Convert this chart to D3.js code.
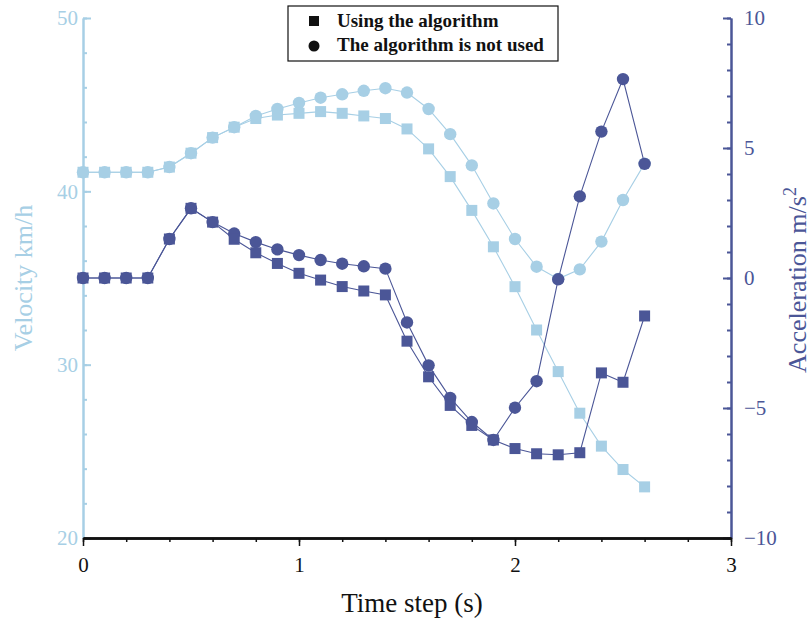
<!DOCTYPE html>
<html lang="en">
  <head>
    <meta charset="utf-8">
    <title>Velocity and acceleration</title>
  </head>
  <style>
    body { margin: 0; background: #fff; }
  </style>
  <body>
    <div id="svg-area"></div>
    <script src="https://cdn.jsdelivr.net/npm/d3@7"></script>
    <script>
      const svg_width = 811;
      const svg_height = 624;
      const serif = '"Liberation Serif", "Times New Roman", "DejaVu Serif", serif';

      // time steps 0 .. 2.6
      const time = [0,0.1,0.2,0.3,0.4,0.5,0.6,0.7,0.8,0.9,1.0,1.1,1.2,1.3,1.4,1.5,1.6,1.7,1.8,1.9,2.0,2.1,2.2,2.3,2.4,2.5,2.6];

      const vel_algo = [41.1,41.1,41.1,41.1,41.4,42.2,43.1,43.7,44.2,44.4,44.5,44.6,44.5,44.35,44.2,43.6,42.45,40.85,38.9,36.8,34.5,32.0,29.6,27.2,25.3,23.95,22.95];
      const vel_noalgo = [41.1,41.1,41.1,41.1,41.4,42.2,43.1,43.7,44.35,44.75,45.1,45.4,45.6,45.8,45.95,45.7,44.75,43.3,41.5,39.3,37.25,35.65,34.95,35.5,37.1,39.5,41.6];
      const acc_algo = [0,0,0,0,1.5,2.68,2.15,1.49,0.97,0.56,0.18,-0.08,-0.33,-0.5,-0.65,-2.43,-3.8,-4.9,-5.67,-6.23,-6.56,-6.76,-6.8,-6.72,-3.65,-4.01,-1.46];
      const acc_noalgo = [0,0,0,0,1.5,2.68,2.15,1.71,1.38,1.1,0.88,0.69,0.55,0.45,0.36,-1.71,-3.36,-4.61,-5.54,-6.23,-4.99,-3.97,-0.05,3.14,5.63,7.65,4.39];

      const legend_labels = ['Using the algorithm', 'The algorithm is not used'];

      const light = '#a7cfe5';
      const dark = '#4b5697';

      const margin = {top: 18, right: 80, bottom: 86, left: 83};
      const plot_right = svg_width - margin.right;
      const plot_bottom = svg_height - margin.bottom;

      const svg = d3.select('#svg-area')
        .append('svg')
        .attr('width', svg_width)
        .attr('height', svg_height)
        .style('font-family', serif);

      //scales
      const x_scale = d3.scaleLinear().domain([0,3]).range([margin.left, plot_right]);
      const yv_scale = d3.scaleLinear().domain([20,50]).range([plot_bottom, margin.top]);
      const ya_scale = d3.scaleLinear().domain([-10,10]).range([plot_bottom, margin.top]);

      const style_axis = (gs, color, path_w) => gs.forEach(g => {
        g.attr('font-family', serif).attr('font-size', 21);
        g.selectAll('line').attr('stroke', color).attr('stroke-width', 2);
        g.selectAll('path').attr('stroke', color).attr('stroke-width', path_w);
        g.selectAll('text').attr('fill', color);
      });

      //left axis (velocity)
      const left_minor = svg.append('g')
        .attr('transform', `translate(${margin.left},0)`)
        .call(d3.axisLeft(yv_scale).tickValues(d3.range(20,51,2)).tickSize(-4).tickSizeOuter(0).tickFormat(''));
      const left_axis = svg.append('g')
        .attr('transform', `translate(${margin.left},0)`)
        .call(d3.axisLeft(yv_scale).tickValues([20,30,40,50]).tickSize(-8).tickSizeOuter(0).tickPadding(5));
      style_axis([left_minor, left_axis], light, 2);

      //right axis (acceleration)
      const right_minor = svg.append('g')
        .attr('transform', `translate(${plot_right},0)`)
        .call(d3.axisRight(ya_scale).tickValues(d3.range(-10,11,1)).tickSize(-4).tickSizeOuter(0).tickFormat(''));
      const right_axis = svg.append('g')
        .attr('transform', `translate(${plot_right},0)`)
        .call(d3.axisRight(ya_scale).tickValues([-10,-5,0,5,10]).tickSize(-8).tickSizeOuter(0).tickPadding(13)
          .tickFormat(d => d < 0 ? '\u2212' + Math.abs(d) : d));
      style_axis([right_minor, right_axis], dark, 2);

      //bottom axis
      const bottom_minor = svg.append('g')
        .attr('transform', `translate(0,${plot_bottom})`)
        .call(d3.axisBottom(x_scale).tickValues(d3.range(0,3.01,0.2)).tickSize(4).tickSizeOuter(0).tickFormat(''));
      const bottom_axis = svg.append('g')
        .attr('transform', `translate(0,${plot_bottom})`)
        .call(d3.axisBottom(x_scale).tickValues([0,1,2,3]).tickSize(8).tickSizeOuter(0).tickPadding(11).tickFormat(d3.format('d')));
      style_axis([bottom_minor, bottom_axis], '#111', 2.5);
      bottom_minor.selectAll('line').attr('stroke-width', 1.5);
      bottom_axis.selectAll('line').attr('stroke-width', 1.5);

      //axis titles
      svg.append('text')
        .attr('transform', `translate(32,${(margin.top+plot_bottom)/2}) rotate(-90)`)
        .attr('text-anchor','middle')
        .attr('font-family', serif)
        .attr('font-size', 26)
        .attr('fill', light)
        .text('Velocity km/h');
      const acc_title = svg.append('text')
        .attr('transform', `translate(806,${(margin.top+plot_bottom)/2 + 2}) rotate(-90)`)
        .attr('text-anchor','middle')
        .attr('font-family', serif)
        .attr('font-size', 26)
        .attr('fill', dark);
      acc_title.append('tspan').text('Acceleration m/s');
      acc_title.append('tspan').attr('dy', -10).attr('font-size', 18).text('2');
      svg.append('text')
        .attr('x', 412)
        .attr('y', 612)
        .attr('text-anchor','middle')
        .attr('font-family', serif)
        .attr('font-size', 27)
        .attr('fill', '#111')
        .text('Time step (s)');

      //series
      const series = [
        { values: vel_noalgo, y: yv_scale, color: light, shape: 'circle' },
        { values: vel_algo, y: yv_scale, color: light, shape: 'square' },
        { values: acc_noalgo, y: ya_scale, color: dark, shape: 'circle' },
        { values: acc_algo, y: ya_scale, color: dark, shape: 'square' }
      ];

      const line = (s) => d3.line()
        .x((d,i) => x_scale(time[i]))
        .y(d => s.y(d));

      series.forEach(s => {
        const g = svg.append('g');
        g.append('path')
          .datum(s.values)
          .attr('d', line(s))
          .attr('fill', 'none')
          .attr('stroke', s.color)
          .attr('stroke-width', 1.1);
        if (s.shape === 'circle') {
          g.selectAll('circle').data(s.values).enter()
            .append('circle')
            .attr('cx', (d,i) => x_scale(time[i]))
            .attr('cy', d => s.y(d))
            .attr('r', 6.2)
            .attr('fill', s.color);
        } else {
          g.selectAll('rect').data(s.values).enter()
            .append('rect')
            .attr('x', (d,i) => x_scale(time[i]) - 5.5)
            .attr('y', d => s.y(d) - 5.5)
            .attr('width', 11)
            .attr('height', 11)
            .attr('fill', s.color);
        }
      });

      //legend
      const legend = svg.append('g');
      legend.append('rect')
        .attr('x', 288).attr('y', 6)
        .attr('width', 270).attr('height', 55)
        .attr('fill', '#fff')
        .attr('stroke', '#111')
        .attr('stroke-width', 1.2);
      legend.append('rect')
        .attr('x', 309).attr('y', 16)
        .attr('width', 10).attr('height', 10)
        .attr('fill', '#111');
      legend.append('circle')
        .attr('cx', 314).attr('cy', 46)
        .attr('r', 5.5)
        .attr('fill', '#111');
      legend.selectAll('text.lbl').data(legend_labels).enter()
        .append('text')
        .attr('class','lbl')
        .attr('x', 337)
        .attr('y', (d,i) => 27 + i*24)
        .attr('font-family', serif)
        .attr('font-size', 19)
        .attr('font-weight', 'bold')
        .attr('fill', '#111')
        .text(d => d);
    </script>
  </body>
</html>
